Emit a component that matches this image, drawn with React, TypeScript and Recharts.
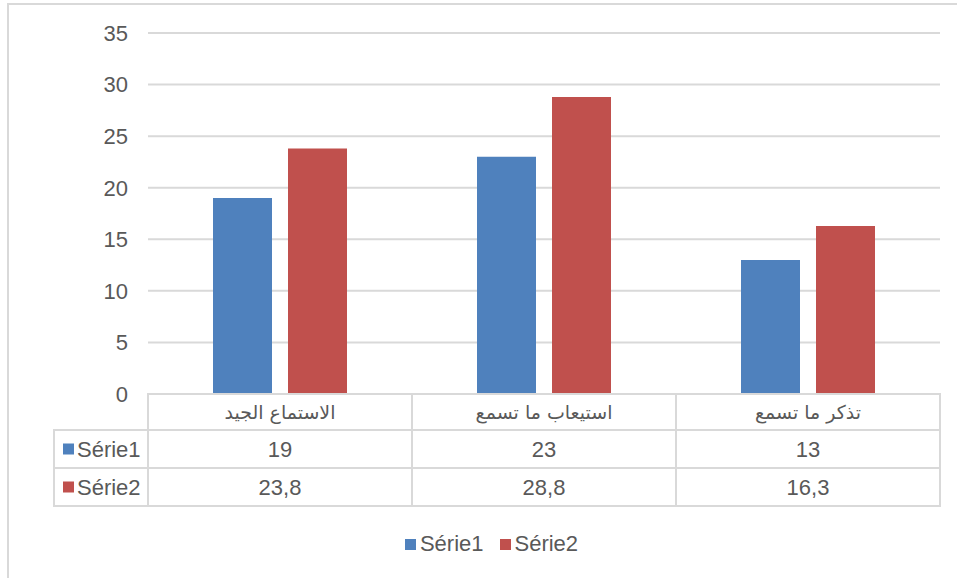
import React from 'react';
import { Bar, BarChart, CartesianGrid, Legend, XAxis, YAxis } from 'recharts';

const categories = ['الاستماع الجيد', 'استيعاب ما تسمع', 'تذكر ما تسمع'];
const serie1 = [19, 23, 13];
const serie2 = [23.8, 28.8, 16.3];
const seriesNames = ['Série1', 'Série2'];
const seriesColors = ['#4f81bd', '#c0504d'];
const yTicks = [0, 5, 10, 15, 20, 25, 30, 35];

const data = categories.map((name, i) => ({ name, s1: serie1[i], s2: serie2[i] }));

const W = 957;
const H = 578;
const MARGIN = { top: 33, right: 17, left: 0, bottom: 0 };
const Y_AXIS_W = 148;
const X_AXIS_H = 134;
const LEGEND_H = 50;
const CELL_W = (W - MARGIN.left - MARGIN.right - Y_AXIS_W) / categories.length;
const ROWS = [36, 38, 38];
const HEAD_W = 94;

const FONT = "'Liberation Sans', 'DejaVu Sans', sans-serif";
const TEXT = '#595959';
const LINE = '#d9d9d9';
const FS = 22;

const fmt = (v: number) => String(v).replace('.', ',');

const TableTick = (props: any) => {
  const { x, y, index } = props;
  const left = x - CELL_W / 2;
  const y1 = y + ROWS[0];
  const y2 = y1 + ROWS[1];
  const y3 = y2 + ROWS[2];
  const values = [serie1[index], serie2[index]];
  return (
    <g>
      <rect x={left} y={y} width={CELL_W} height={ROWS[0]} fill="none" stroke={LINE} strokeWidth={2} />
      <rect x={left} y={y1} width={CELL_W} height={ROWS[1]} fill="none" stroke={LINE} strokeWidth={2} />
      <rect x={left} y={y2} width={CELL_W} height={ROWS[2]} fill="none" stroke={LINE} strokeWidth={2} />
      <text x={x} y={y + ROWS[0] / 2} textAnchor="middle" dominantBaseline="central" fill={TEXT} fontSize={19} fontFamily="'DejaVu Sans', sans-serif">
        {categories[index]}
      </text>
      {values.map((v, i) => (
        <text key={i} x={x} y={(i === 0 ? y1 : y2) + ROWS[i + 1] / 2} textAnchor="middle" dominantBaseline="central" fill={TEXT} fontSize={FS} fontFamily={FONT}>
          {fmt(v)}
        </text>
      ))}
      {index === 0 &&
        seriesNames.map((s, i) => {
          const top = i === 0 ? y1 : y2;
          const cy = top + ROWS[i + 1] / 2;
          return (
            <g key={s}>
              <rect x={left - HEAD_W} y={top} width={HEAD_W} height={ROWS[i + 1]} fill="none" stroke={LINE} strokeWidth={2} />
              <rect x={left - HEAD_W + 9} y={cy - 5.5} width={11} height={11} fill={seriesColors[i]} />
              <text x={left - HEAD_W + 23} y={cy} dominantBaseline="central" fill={TEXT} fontSize={FS} fontFamily={FONT}>
                {s}
              </text>
            </g>
          );
        })}
      {index === 0 && <line x1={left - HEAD_W} x2={left - HEAD_W} y1={y1} y2={y3} stroke={LINE} strokeWidth={2} />}
    </g>
  );
};

const LegendContent = () => (
  <div style={{ display: 'flex', justifyContent: 'center', gap: 16, paddingTop: 3, paddingLeft: 26, fontFamily: FONT, fontSize: FS, color: TEXT }}>
    {seriesNames.map((s, i) => (
      <div key={s} style={{ display: 'flex', alignItems: 'center', gap: 4 }}>
        <span style={{ display: 'inline-block', width: 11, height: 11, background: seriesColors[i] }} />
        <span>{s}</span>
      </div>
    ))}
  </div>
);

export default function App() {
  return (
    <div style={{ position: 'fixed', left: 0, top: 0, width: W, height: H, overflow: 'hidden', background: '#fff' }}>
      <div style={{ position: 'absolute', left: 7, top: 3, width: W, height: H, border: `2px solid ${LINE}` }} />
      <div style={{ position: 'absolute', left: 0, top: 0 }}>
        <BarChart width={W} height={H} data={data} margin={MARGIN} barCategoryGap={65} barGap={16}>
          <CartesianGrid vertical={false} stroke={LINE} strokeWidth={2} />
          <XAxis
            dataKey="name"
            height={X_AXIS_H}
            axisLine={false}
            tickLine={false}
            tickSize={0}
            tickMargin={0}
            interval={0}
            tick={<TableTick />}
          />
          <YAxis
            width={Y_AXIS_W}
            domain={[0, 35]}
            ticks={yTicks}
            axisLine={false}
            tickLine={false}
            tickSize={0}
            tickMargin={20}
            tick={{ fill: TEXT, fontSize: FS, fontFamily: FONT }}
          />
          <Legend verticalAlign="bottom" height={LEGEND_H} wrapperStyle={{ left: 0, width: W }} content={<LegendContent />} />
          <Bar dataKey="s1" name={seriesNames[0]} fill={seriesColors[0]} isAnimationActive={false} />
          <Bar dataKey="s2" name={seriesNames[1]} fill={seriesColors[1]} isAnimationActive={false} />
        </BarChart>
      </div>
    </div>
  );
}
